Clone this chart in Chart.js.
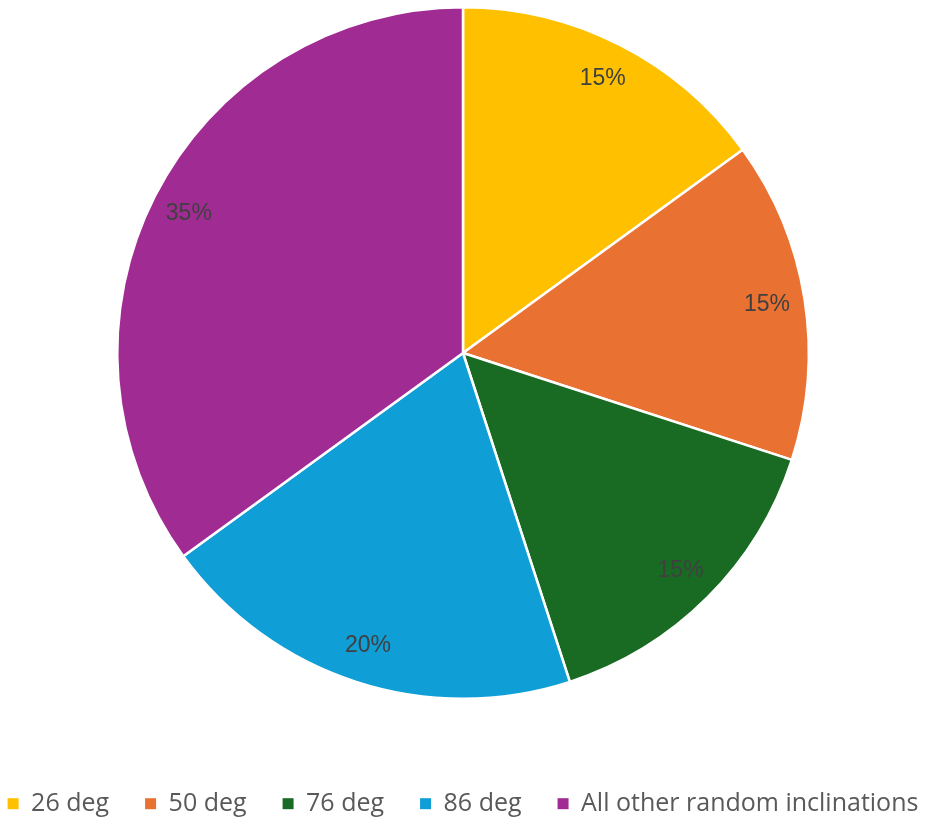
<!DOCTYPE html>
<html>
<head>
<meta charset="utf-8">
<script src="https://cdn.jsdelivr.net/npm/chart.js@4"></script>
<style>
  html, body { margin: 0; padding: 0; background: #fff; }
  #wrap { width: 926px; height: 818px; }
</style>
</head>
<body>
<div id="wrap"><canvas id="pieChart"></canvas></div>
<script>
var labels = ["26 deg", "50 deg", "76 deg", "86 deg", "All other random inclinations"];
var shares = [15, 15, 15, 20, 35];
var colors = ["#FFC000", "#E97132", "#196B24", "#0F9ED5", "#A02B93"];

// percent labels inside the slices
var sliceLabels = {
  id: "sliceLabels",
  afterDatasetsDraw: function(chart) {
    var ctx = chart.ctx;
    var meta = chart.getDatasetMeta(0);
    var total = shares.reduce(function(a, b) { return a + b; }, 0);
    ctx.save();
    ctx.font = "23px 'Liberation Sans', Arial, sans-serif";
    ctx.fillStyle = "#404040";
    ctx.textAlign = "center";
    ctx.textBaseline = "middle";
    meta.data.forEach(function(arc, i) {
      var p = arc.getProps(["x", "y", "startAngle", "endAngle", "outerRadius"], true);
      var mid = (p.startAngle + p.endAngle) / 2;
      var r = p.outerRadius * 0.89;
      ctx.fillText(Math.round(shares[i] / total * 100) + "%", p.x + Math.cos(mid) * r, p.y + Math.sin(mid) * r);
    });
    ctx.restore();
  }
};

// keep the legend on one row and give it a fixed height
var legendRow = {
  id: "legendRow",
  beforeInit: function(chart) {
    var legend = chart.legend;
    var fit = legend.fit;
    var draw = legend._draw;
    legend.fit = function() {
      var w = this.maxWidth;
      this.maxWidth = 3000;
      fit.call(this);
      this.maxWidth = w;
      this.width = w;
      this.height = 118;
    };
    legend._draw = function() {
      var l = this.left, r = this.right;
      this.left = l - 300;
      this.right = r + 300;
      draw.call(this);
      this.left = l;
      this.right = r;
    };
  }
};

new Chart(document.getElementById("pieChart"), {
  type: "pie",
  data: {
    labels: labels,
    datasets: [{
      data: shares,
      backgroundColor: colors,
      borderColor: "#ffffff",
      borderWidth: 2.5
    }]
  },
  options: {
    responsive: true,
    maintainAspectRatio: false,
    animation: false,
    layout: { padding: { top: 6, bottom: 0 } },
    plugins: {
      tooltip: { enabled: false },
      legend: {
        position: "bottom",
        title: { display: true, text: " ", font: { size: 1 }, padding: { top: 54, bottom: 0 } },
        labels: {
          boxWidth: 11,
          boxHeight: 11,
          padding: 36,
          color: "#595959",
          font: { size: 25, family: "'Open Sans', sans-serif" },
          generateLabels: function(chart) {
            return Chart.overrides.pie.plugins.legend.labels.generateLabels(chart).map(function(item) {
              item.lineWidth = 0;
              return item;
            });
          }
        }
      }
    }
  },
  plugins: [sliceLabels, legendRow]
});
</script>
</body>
</html>
